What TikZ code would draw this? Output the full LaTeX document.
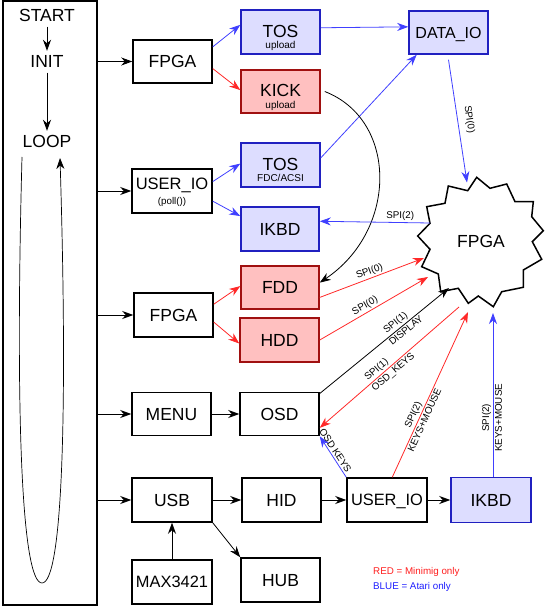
\documentclass[tikz,border=0pt]{standalone}
\usepackage{fontspec}
\setmainfont{Liberation Sans}
\usetikzlibrary{arrows.meta,calc}
\definecolor{bfill}{RGB}{221,221,255}
\definecolor{bdraw}{RGB}{32,32,192}
\definecolor{rfill}{RGB}{255,192,192}
\definecolor{rdraw}{RGB}{160,16,16}
\definecolor{bline}{RGB}{64,64,255}
\definecolor{rline}{RGB}{255,40,40}
\definecolor{legred}{RGB}{255,30,30}
\definecolor{legblue}{RGB}{30,30,255}
\begin{document}
\begin{tikzpicture}[x=1pt,y=-1pt,
  >={Stealth[length=11pt,width=8pt,inset=3.5pt]},
  box/.style={draw,line width=1.5pt,minimum width=79pt,minimum height=43pt,inner sep=0pt,text depth=0pt,font=\fontsize{17.5}{17.5}\selectfont},
  bluebox/.style={box,draw=bdraw,fill=bfill},
  redbox/.style={box,draw=rdraw,fill=rfill},
  two/.style={align=center,font=\fontsize{10}{11.5}\selectfont},
  conn/.style={->,line width=0.8pt},
  bconn/.style={conn,draw=bline},
  rconn/.style={conn,draw=rline},
  lbl/.style={font=\fontsize{9.8}{11}\selectfont,inner sep=1.5pt},
  ttl/.style={font=\fontsize{17.5}{17.5}\selectfont,text height=12.5pt,text depth=0pt,inner xsep=0pt,inner ysep=4.5pt}
]
\useasboundingbox (0,0) rectangle (545,609);

% main loop frame
\node[draw,line width=1.5pt,minimum width=94pt,minimum height=604pt,inner sep=0pt] (main) at (50,303) {};
\node[ttl,anchor=base] (start) at (47,22) {START};
\node[ttl,anchor=base] (init) at (47,68) {INIT};
\node[ttl,anchor=base] (loop) at (47,148) {LOOP};
\draw[conn] (start) -- (init);
\draw[conn] (init) -- (loop);
\coordinate (loopa) at (22,157);
\coordinate (loopb) at (60,158);
\draw[conn,line width=0.7pt] (loopa) .. controls (15,420) and (22,583) .. (42,583) .. controls (62,583) and (68,420) .. (loopb);

% boxes
\node[box] (fpga1) at (172.5,61.5) {FPGA};
\node[bluebox,two,minimum height=44pt] (tosU) at (280.5,32) {\rule{0pt}{22pt}{\fontsize{17.5}{17.5}\selectfont TOS}\\upload};
\node[redbox,two] (kick) at (280.5,91.5) {\rule{0pt}{22pt}{\fontsize{17.5}{17.5}\selectfont KICK}\\upload};
\node[bluebox,font=\fontsize{16}{16}\selectfont] (dataio) at (448.5,32.5) {DATA\_IO};
\node[bluebox,two,minimum height=44pt] (tosF) at (280.5,165) {\rule{0pt}{22pt}{\fontsize{17.5}{17.5}\selectfont TOS}\\FDC/ACSI};
\node[box,two,minimum width=80pt,minimum height=44pt,font=\fontsize{9.8}{15}\selectfont] (userio1) at (172,191) {{\fontsize{16.5}{16.5}\selectfont USER\_IO}\\(poll())};
\node[bluebox,minimum width=78pt,minimum height=44pt] (ikbd1) at (280,229) {IKBD};
\node[redbox,minimum width=78pt] (fdd) at (280,287.5) {FDD};
\node[box,minimum height=44pt] (fpga2) at (173.5,315) {FPGA};
\node[redbox,minimum height=44pt] (hdd) at (279.5,340) {HDD};
\node[box] (menu) at (171.5,414) {MENU};
\node[box] (osd) at (279.5,414) {OSD};
\node[box,minimum width=80pt,minimum height=44pt] (usb) at (172,500) {USB};
\node[box,minimum height=44pt] (hid) at (281.5,500) {HID};
\node[box,minimum width=80pt,minimum height=44pt,font=\fontsize{16.4}{16.4}\selectfont] (userio2) at (387,500) {USER\_IO};
\node[bluebox,minimum width=80pt,minimum height=45pt] (ikbd2) at (491,500) {IKBD};
\node[box,minimum width=80pt,minimum height=44pt,font=\fontsize{16.4}{16.4}\selectfont] (max) at (172,582) {MAX3421};
\node[box,minimum height=44pt] (hub) at (280.5,580) {HUB};

% star-shaped FPGA
\draw[line width=1.5pt,line join=miter,fill=white]
  (476.7,177.3) -- (467.7,190.7) -- (448.3,186) -- (445,203.3) -- (426.7,206.7)
  -- (430,223.3) -- (417.7,236) -- (430,249.3) -- (421.7,266.7) -- (438.3,274)
  -- (440.7,291.7) -- (458.3,288.3) -- (468.3,303.3) -- (478.3,296) -- (493.3,306.7)
  -- (501.7,291.7) -- (523.3,287.3) -- (523.3,270) -- (541.7,259.3) -- (532.3,241.7)
  -- (543.3,230.7) -- (531.7,216.7) -- (533.3,201.7) -- (515,201.7) -- (506.7,184)
  -- (490,188.3) -- cycle;
\node[circle,minimum size=110pt,inner sep=0pt,font=\fontsize{17.5}{17.5}\selectfont] (star) at (481,241.5) {FPGA};
\coordinate (sDI) at ([shift={(-14,-59)}]star.center);
\coordinate (sIKa) at ([shift={(-51,-18.5)}]star.center);
\coordinate (sF) at ([shift={(-57,16.5)}]star.center);
\coordinate (sH) at ([shift={(-53,35.5)}]star.center);
\coordinate (sO) at ([shift={(-32,46.5)}]star.center);
\coordinate (sOK) at ([shift={(-22,65.5)}]star.center);
\coordinate (sUK) at ([shift={(-13,70.5)}]star.center);
\coordinate (sIK2) at ([shift={(12,71.5)}]star.center);

% connectors from main loop
\draw[conn] (main.east |- fpga1) -- (fpga1);
\draw[conn] (main.east |- userio1) -- (userio1);
\draw[conn] (main.east |- fpga2) -- (fpga2);
\draw[conn] (main.east |- menu) -- (menu);
\draw[conn] (main.east |- usb) -- (usb);

% top section
\draw[bconn] (fpga1.20) -- (tosU.170);
\draw[rconn] (fpga1.-10) -- (kick.178);
\draw[bconn] (tosU.6) -- (dataio.172);
\draw[bconn] (tosF.10) -- (dataio.215);
\draw[bconn] ([yshift=-5pt]dataio.south) -- (sDI) node[lbl,midway,sloped,above=5pt]{SPI(0)};
\draw[conn] ([xshift=4pt]kick.east) .. controls (398,120) and (398,230) .. (fdd.7);
\draw[bconn] (userio1.13) -- (tosF.178);
\draw[bconn] (userio1.-14) -- (ikbd1.162);
\draw[bconn] (sIKa) -- (ikbd1.11) node[lbl,pos=0.27,above]{SPI(2)};

% middle section
\draw[rconn] (fpga2.15) -- (fdd.178);
\draw[rconn] (fpga2.-10) -- (hdd.185);
\draw[rconn] (fdd.-14) -- (sF) node[lbl,midway,sloped,above]{SPI(0)};
\draw[rconn] (hdd.east) -- (sH) node[lbl,pos=0.45,sloped,above]{SPI(0)};
\draw[conn] (menu) -- (osd);
\draw[conn] (osd.27) -- (sO) node[lbl,pos=0.62,sloped,above]{SPI(1)} node[lbl,pos=0.64,sloped,below]{DISPLAY};
\draw[rconn] (sOK) -- (osd.-19) node[lbl,pos=0.56,sloped,above]{SPI(1)} node[lbl,pos=0.50,sloped,below]{OSD\_KEYS};
\draw[rconn] (userio2.77) -- (sUK) node[lbl,pos=0.36,sloped,above]{SPI(2)} node[lbl,pos=0.36,sloped,below]{KEYS+MOUSE};
\draw[bconn] (sIK2 |- ikbd2.north) -- (sIK2) node[lbl,pos=0.36,sloped,above]{SPI(2)} node[lbl,pos=0.36,sloped,below]{KEYS+MOUSE};
\draw[bconn] (userio2.north west) -- (osd.south east) node[lbl,pos=0.58,sloped,above]{OSD KEYS};

% bottom section
\draw[conn] (usb) -- (hid);
\draw[conn] (hid) -- (userio2);
\draw[conn] (userio2) -- (ikbd2);
\draw[conn] (max) -- (usb);
\draw[conn] (usb.south east) -- (hub.north west);

% legend
\node[lbl,inner sep=0pt,anchor=west,text=legred] (leg1) at (373,572) {RED = Minimig only};
\node[lbl,inner sep=0pt,anchor=west,text=legblue] (leg2) at (373,587) {BLUE = Atari only};
\end{tikzpicture}
\end{document}
